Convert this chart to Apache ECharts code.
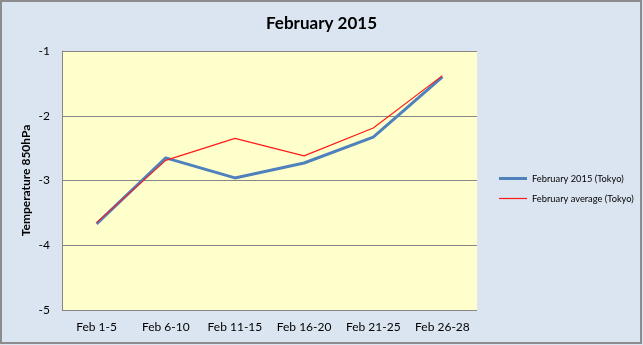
<!DOCTYPE html>
<html><head><meta charset="utf-8">
<script src="https://cdn.jsdelivr.net/npm/echarts@6/dist/echarts.min.js"></script>
<style>html,body{margin:0;padding:0;background:#dbe5f1;}#c{width:643px;height:345px;}</style>
</head><body><div id="c"></div>
<script>
var categories = ['Feb 1-5','Feb 6-10','Feb 11-15','Feb 16-20','Feb 21-25','Feb 26-28'];
var feb2015 = [-3.67, -2.65, -2.96, -2.73, -2.33, -1.40];
var febAvg = [-3.65, -2.69, -2.35, -2.62, -2.19, -1.38];
var yTicks = [-5, -4, -3, -2, -1];
var seriesNames = ['February 2015 (Tokyo)', 'February average (Tokyo)'];

var font = 'Lato, "Open Sans", sans-serif';
var chart = echarts.init(document.getElementById('c'));
chart.setOption({
  backgroundColor: '#dbe5f1',
  animation: false,
  textStyle: {fontFamily: font},
  title: {text: 'February 2015', left: 'center', top: 10,
    textStyle: {fontFamily: font, fontSize: 17, fontWeight: 'bold', color: '#000'}},
  graphic: [{type: 'rect', shape: {x: 1, y: 1, width: 640, height: 342},
    style: {fill: 'none', stroke: '#8c8c8c', lineWidth: 2}, silent: true}],
  legend: {orient: 'vertical', left: 494, top: 169, itemWidth: 28, itemHeight: 10, itemGap: 11,
    textStyle: {fontFamily: font, fontSize: 9.3, color: '#000'},
    data: [
      {name: seriesNames[0], icon: 'path://M0,0L28,0L28,3L0,3Z'},
      {name: seriesNames[1], icon: 'path://M0,0L28,0L28,1.2L0,1.2Z'}
    ]},
  grid: {left: 62, right: 166, top: 51, bottom: 35, show: true, backgroundColor: '#ffffcc', borderWidth: 0},
  xAxis: {type: 'category', data: categories, boundaryGap: true,
    axisLine: {show: false}, axisTick: {show: false},
    axisLabel: {fontFamily: font, fontSize: 12, color: '#000', margin: 11, interval: 0}},
  yAxis: {type: 'value', min: yTicks[0], max: yTicks[yTicks.length-1], interval: 1,
    name: 'Temperature 850hPa', nameLocation: 'middle', nameGap: 30, nameMoveOverlap: false,
    nameTextStyle: {fontFamily: font, fontSize: 12, fontWeight: 'bold', color: '#000'},
    axisLine: {show: true, lineStyle: {color: '#868686', width: 1}},
    axisTick: {show: false},
    axisLabel: {fontFamily: font, fontSize: 12, color: '#000', margin: 12},
    splitLine: {lineStyle: {color: '#868686', width: 1}}},
  series: [
    {name: seriesNames[0], type: 'line', data: feb2015, symbol: 'none',
      lineStyle: {color: '#4f81bd', width: 3}, itemStyle: {color: '#4f81bd'}, z: 2},
    {name: seriesNames[1], type: 'line', data: febAvg, symbol: 'none',
      lineStyle: {color: '#ff1a1a', width: 1.2}, itemStyle: {color: '#ff1a1a'}, z: 3}
  ]
});
</script></body></html>
